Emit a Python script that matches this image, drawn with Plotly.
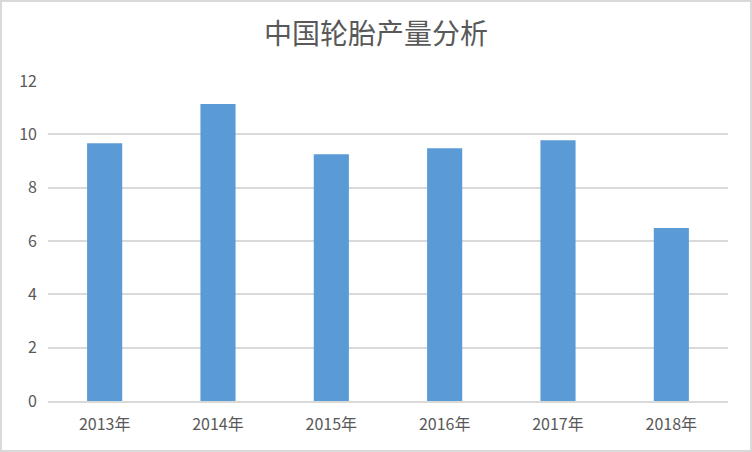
import plotly.graph_objects as go

categories = ["2013年", "2014年", "2015年", "2016年", "2017年", "2018年"]
values = [9.67, 11.14, 9.25, 9.48, 9.78, 6.49]
y_ticks = [0, 2, 4, 6, 8, 10, 12]

font_family = "Noto Sans CJK SC, Noto Sans, sans-serif"
text_color = "#595959"

W, H = 752, 452
L, R, T, B = 48, 24, 81, 51
PW, PH = W - L - R, H - T - B

fig = go.Figure(go.Bar(
    x=categories,
    y=values,
    marker=dict(color="#5B9BD5", line=dict(width=0)),
    hoverinfo="x+y",
))

fig.update_layout(
    width=W, height=H,
    margin=dict(l=L, r=R, t=T, b=B, pad=0),
    paper_bgcolor="white",
    plot_bgcolor="white",
    bargap=0.69,
    showlegend=False,
    title=dict(
        text="中国轮胎产量分析",
        x=0.5, xanchor="center",
        y=1 - 34 / H, yanchor="middle",
        font=dict(family=font_family, size=28, color=text_color),
    ),
    font=dict(family=font_family, color=text_color, size=16),
    xaxis=dict(
        showgrid=False,
        showline=True, linecolor="#D9D9D9", linewidth=1.5,
        ticks="",
        ticklabelstandoff=8,
        tickfont=dict(family=font_family, size=16, color=text_color),
    ),
    yaxis=dict(
        range=[0, 12],
        tickvals=y_ticks,
        showgrid=True, gridcolor="#D9D9D9", gridwidth=1.5,
        zeroline=False,
        showline=False,
        ticks="",
        ticklabelstandoff=10,
        tickfont=dict(family=font_family, size=16, color=text_color),
    ),
    shapes=[dict(
        type="rect", xref="paper", yref="paper",
        x0=(1 - L) / PW, x1=(W - 1 - L) / PW,
        y0=-(H - 1 - (T + PH)) / PH, y1=(T + PH - 1) / PH,
        line=dict(color="#D9D9D9", width=2),
        fillcolor="rgba(0,0,0,0)",
        layer="below",
    )],
)

fig.write_html(
    "out.html",
    config={"displayModeBar": False},
    post_script="document.body.style.margin='0';document.body.style.padding='0';document.body.style.overflow='hidden';",
)
